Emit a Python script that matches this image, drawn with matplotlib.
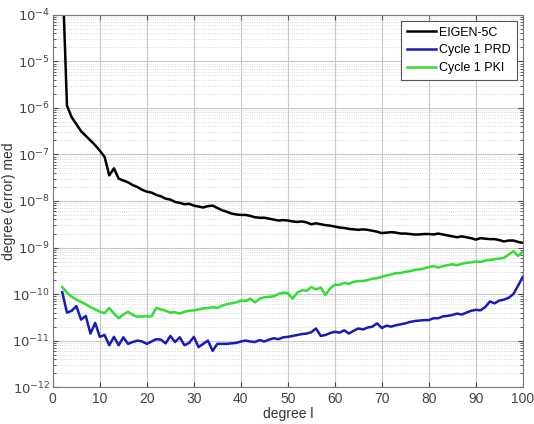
import numpy as np
from matplotlib import pyplot as plt
from matplotlib.ticker import LogLocator, FixedLocator

plt.rcParams['font.family'] = ['Liberation Sans', 'DejaVu Sans']

degrees = list(range(2, 101))

# log10 of the median degree error (l = 2..100)
eigen_log = [
    -3.00, -5.95, -6.20, -6.35, -6.50, -6.60, -6.70, -6.80, -6.92, -7.05,
    -7.45, -7.30, -7.52, -7.56, -7.60, -7.66, -7.70, -7.76, -7.80, -7.82,
    -7.87, -7.90, -7.95, -7.97, -8.02, -8.04, -8.07, -8.06, -8.10, -8.12,
    -8.14, -8.11, -8.10, -8.15, -8.20, -8.23, -8.27, -8.29, -8.30, -8.30,
    -8.32, -8.35, -8.36, -8.36, -8.38, -8.40, -8.42, -8.41, -8.42, -8.44,
    -8.45, -8.44, -8.46, -8.50, -8.48, -8.50, -8.52, -8.53, -8.55, -8.57,
    -8.58, -8.60, -8.61, -8.62, -8.61, -8.62, -8.64, -8.66, -8.69, -8.68,
    -8.67, -8.68, -8.70, -8.70, -8.71, -8.72, -8.72, -8.71, -8.71, -8.72,
    -8.70, -8.72, -8.74, -8.76, -8.78, -8.76, -8.78, -8.80, -8.83, -8.80,
    -8.81, -8.82, -8.82, -8.84, -8.87, -8.85, -8.85, -8.88, -8.90,
]

prd_log = [
    -9.96, -10.40, -10.36, -10.26, -10.55, -10.47, -10.85, -10.62, -10.92, -10.88,
    -11.10, -10.92, -11.10, -10.93, -11.07, -11.03, -11.00, -11.02, -11.07, -11.02,
    -10.97, -10.98, -11.06, -10.90, -11.03, -10.93, -11.10, -11.05, -10.92, -11.14,
    -11.07, -11.00, -11.22, -11.07, -11.07, -11.07, -11.06, -11.05, -11.02, -11.00,
    -11.02, -11.03, -10.99, -11.02, -10.98, -10.95, -10.97, -10.93, -10.92, -10.90,
    -10.88, -10.86, -10.85, -10.82, -10.74, -10.90, -10.88, -10.84, -10.81, -10.83,
    -10.78, -10.85, -10.79, -10.74, -10.76, -10.72, -10.70, -10.63, -10.73, -10.68,
    -10.70, -10.67, -10.65, -10.63, -10.60, -10.58, -10.57, -10.56, -10.56, -10.52,
    -10.52, -10.48, -10.47, -10.45, -10.42, -10.44, -10.40, -10.36, -10.34, -10.35,
    -10.28, -10.16, -10.20, -10.14, -10.12, -10.08, -10.00, -9.82, -9.63,
]

pki_log = [
    -9.85, -9.97, -10.06, -10.12, -10.17, -10.22, -10.28, -10.33, -10.38, -10.41,
    -10.30, -10.42, -10.52, -10.44, -10.38, -10.45, -10.49, -10.48, -10.48, -10.48,
    -10.30, -10.33, -10.36, -10.40, -10.39, -10.42, -10.38, -10.36, -10.35, -10.33,
    -10.31, -10.30, -10.28, -10.30, -10.25, -10.22, -10.20, -10.18, -10.14, -10.15,
    -10.10, -10.18, -10.10, -10.07, -10.06, -10.05, -10.00, -9.97, -9.98, -10.10,
    -9.97, -9.92, -9.93, -9.85, -9.90, -9.86, -10.02, -9.88, -9.80, -9.80,
    -9.76, -9.78, -9.74, -9.72, -9.72, -9.70, -9.67, -9.66, -9.63, -9.60,
    -9.58, -9.55, -9.55, -9.52, -9.51, -9.48, -9.47, -9.45, -9.42, -9.40,
    -9.43, -9.40, -9.38, -9.36, -9.38, -9.35, -9.33, -9.32, -9.30, -9.31,
    -9.28, -9.27, -9.25, -9.24, -9.22, -9.15, -9.08, -9.18, -9.10,
]

x_ticks = list(range(0, 101, 10))
y_exps = list(range(-12, -3))

fig = plt.figure(figsize=(5.34, 4.24), dpi=100)
ax = fig.add_axes([0.099, 0.087, 0.880, 0.878])

ax.plot(degrees, 10.0 ** np.array(eigen_log), color='black', lw=1.8, label='EIGEN-5C')
ax.plot(degrees, 10.0 ** np.array(prd_log), color='#1a1ab4', lw=1.8, label='Cycle 1 PRD')
ax.plot(degrees, 10.0 ** np.array(pki_log), color='#33dd33', lw=1.8, label='Cycle 1 PKI')

ax.set_yscale('log')
ax.set_xlim(0, 100)
ax.set_ylim(1e-12, 1e-4)
ax.xaxis.set_major_locator(FixedLocator(x_ticks))
ax.yaxis.set_major_locator(FixedLocator([10.0 ** e for e in y_exps]))
ax.yaxis.set_minor_locator(LogLocator(base=10, subs=np.arange(2, 10), numticks=20))
ax.set_yticklabels([r'$10^{%d}$' % e for e in y_exps])

ax.grid(True, which='major', color='#c8c8c8', lw=0.8, ls='-')
ax.grid(True, which='minor', axis='y', color='#d0d0d0', lw=0.6, ls=':')
ax.set_axisbelow(True)

ax.tick_params(which='both', direction='in', top=True, right=True, colors='#444444',
               labelsize=10)
ax.tick_params(axis='y', which='major', pad=2, labelsize=9.5)
ax.tick_params(axis='y', which='minor', length=2)
for s in ax.spines.values():
    s.set_color('#777777')
    s.set_linewidth(0.8)

ax.set_xlabel('degree l', fontsize=10, color='#333333', labelpad=1)
ax.set_ylabel('degree (error) med', fontsize=10, color='#333333')
ax.yaxis.set_label_coords(-0.078, 0.5)

leg = ax.legend(loc='upper right', fontsize=9, fancybox=False, framealpha=1,
                edgecolor='#555555', borderpad=0.45, handlelength=2.3,
                handletextpad=0.3, labelspacing=0.45, borderaxespad=0.5)
leg.get_frame().set_linewidth(0.8)

fig.savefig('out.png', dpi=100)
